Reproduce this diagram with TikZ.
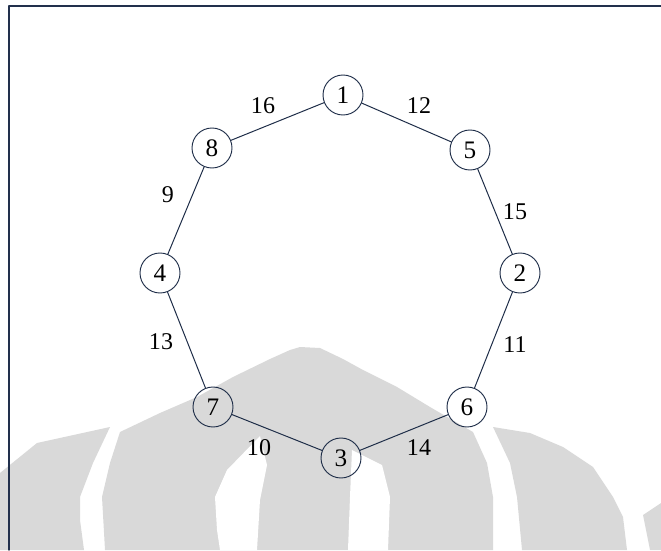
\documentclass[tikz,border=0pt]{standalone}
\usepackage{fontspec}
\setmainfont{Liberation Serif}
\definecolor{ink}{RGB}{30,45,72}
\definecolor{framenavy}{RGB}{34,48,76}
\definecolor{watermark}{RGB}{217,217,217}

\begin{document}
\begin{tikzpicture}[
    x=1cm,
    y=1cm,
    line cap=round,
    line join=round,
    vertex/.style={
      circle,
      draw=ink,
      line width=0.8pt,
      minimum size=1.2cm,
      inner sep=0pt,
      font=\fontsize{21.5}{25}\selectfont
    },
    weight/.style={
      inner sep=0pt,
      font=\fontsize{20.5}{24}\selectfont
    },
    edge/.style={
      draw=ink,
      line width=0.85pt
    }
]
\useasboundingbox (0,0) rectangle (19.83,16.50);

% Background watermark (light grey logo behind the lower half).
\fill[watermark] (3.60,3.54) -- (4.80,4.11) -- (5.91,4.59) -- (6.99,5.19)
  -- (8.10,5.73) -- (8.70,6.00) -- (9.00,6.09) -- (9.60,6.06)
  -- (10.29,5.73) -- (10.89,5.40) -- (11.91,4.89) -- (12.90,4.29)
  -- (14.19,3.54) -- (14.61,2.61) -- (14.79,1.59)
  -- (14.79,0) -- (3.15,0) -- (3.06,1.59) -- (3.30,2.61) -- cycle;
\fill[white] (7.80,3.42) -- (6.81,2.40) -- (6.45,1.59) -- (6.51,0.60)
  -- (6.60,0) -- (7.71,0) -- (7.80,1.50) -- (8.01,2.55) -- cycle;
\fill[white] (10.56,3.00) -- (10.50,1.59) -- (10.44,0) -- (11.64,0)
  -- (11.70,1.59) -- (11.46,2.55) -- cycle;
\fill[watermark] (0,2.31) -- (1.11,3.21) -- (3.30,3.69) -- (2.79,2.61)
  -- (2.40,1.59) -- (2.40,0.90) -- (2.52,0) -- (0,0) -- cycle;
\fill[watermark] (14.79,3.69) -- (15.90,3.51) -- (16.89,3.09)
  -- (17.79,2.49) -- (18.39,1.59) -- (18.69,0.99) -- (18.81,0)
  -- (15.66,0) -- (15.51,1.59) -- (15.30,2.61) -- cycle;
\fill[watermark] (19.29,1.05) -- (19.83,1.41) -- (19.83,0) -- (19.50,0)
  -- cycle;

% Page frame, only its top and left sides fall inside the picture.
\draw[draw=framenavy,line width=1.2pt]
  (0.27,0) -- (0.27,16.32) -- (19.83,16.32);

% Ring of eight vertices.
\foreach \n/\x/\y in {
  1/10.29/13.65,
  5/14.10/12.00,
  2/15.60/8.31,
  6/14.01/4.29,
  3/10.23/2.76,
  7/6.39/4.29,
  4/4.80/8.31,
  8/6.36/12.06
} {
  \node[vertex] (v\n) at (\x,\y) {\n};
}

\foreach \a/\b in {1/5,5/2,2/6,6/3,3/7,7/4,4/8,8/1} {
  \draw[edge] (v\a) -- (v\b);
}

% Edge weights.
\foreach \w/\x/\y in {
  16/7.89/13.32,
  12/12.57/13.32,
  9/5.04/10.65,
  15/15.45/10.14,
  13/4.83/6.24,
  11/15.45/6.15,
  10/7.77/3.06,
  14/12.57/3.06
} {
  \node[weight] (w\w) at (\x,\y) {\w};
}

\end{tikzpicture}
\end{document}
